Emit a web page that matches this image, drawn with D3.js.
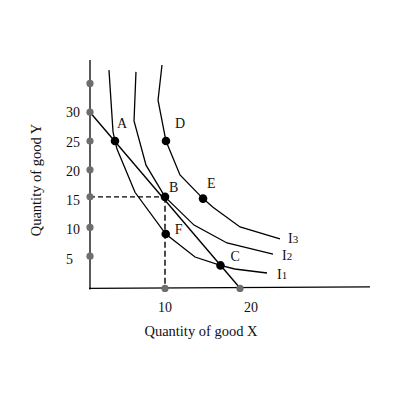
<!DOCTYPE html>
<html>
<head>
<meta charset="utf-8">
<script src="https://cdn.jsdelivr.net/npm/d3@7"></script>
<style>
html,body{margin:0;padding:0;background:#fff;}
svg{display:block;}
text{font-family:"Liberation Serif","Times New Roman",serif;fill:#111;}
</style>
</head>
<body>
<div id="chart"></div>
<script>
// ---- data ----
const yTickValues = [5, 10, 15, 20, 25, 30];
const yTickLabels = ["5", "10", "15", "20", "25", "30"];
const xTickValues = [10, 20];
const xTickLabels = ["10", "20"];
const yAxisDots = [5, 10, 15.3, 20, 25, 30, 35];
const xAxisDots = [10, 20];

const curveNames = ["I1", "I2", "I3"];
const curveI1 = [[2.53,37.3],[3.07,26.6],[3.33,25],[3.6,23.6],[6,16.1],[10.1,8.85],[14,4.86],[17.4,3.4],[19.3,2.78],[23.6,2.08]];
const curveI2 = [[6.13,37.0],[5.87,28.5],[7.47,20.8],[10,15.3],[13.87,10.4],[18.27,7.3],[24.4,5.38]];
const curveI3 = [[9.6,38.2],[9.07,32.1],[10.13,25],[12,19.1],[15.07,15.0],[16.4,13.5],[20,10.07],[25.33,8.0]];
const budgetLine = [[0,30],[19.9,-0.4]];

const pointNames = ["A", "B", "C", "D", "E", "F"];
const pointX = [3.33, 10, 17.4, 10.13, 15.07, 10.1];
const pointY = [25, 15.3, 3.4, 25, 15.0, 8.85];

const xTitle = "Quantity of good X";
const yTitle = "Quantity of good Y";

// ---- drawing ----
const W = 400, H = 400;
const svg = d3.select("#chart").append("svg").attr("width", W).attr("height", H);

const x = d3.scaleLinear().domain([0, 20]).range([90, 240]);
const y = d3.scaleLinear().domain([0, 30]).range([285, 112.2]);
const axisY = y(-0.6);

// axes lines
svg.append("line").attr("x1", x(0)).attr("x2", x(0)).attr("y1", 60).attr("y2", axisY + 1)
  .attr("stroke", "#000").attr("stroke-width", 1.3);
svg.append("line").attr("x1", x(0) - 1).attr("x2", 370).attr("y1", axisY).attr("y2", axisY - 1.5)
  .attr("stroke", "#000").attr("stroke-width", 1.3);

// dashed lines to B
const bx = pointX[1], by = pointY[1];
svg.append("line").attr("x1", x(0)).attr("x2", x(bx)).attr("y1", y(by)).attr("y2", y(by))
  .attr("stroke", "#000").attr("stroke-width", 1.1).attr("stroke-dasharray", "5,3");
svg.append("line").attr("x1", x(bx)).attr("x2", x(bx)).attr("y1", y(by)).attr("y2", axisY)
  .attr("stroke", "#000").attr("stroke-width", 1.4).attr("stroke-dasharray", "6,3");

const line = d3.line().x(d => x(d[0])).y(d => y(d[1]));
[curveI1, curveI2, curveI3].forEach(c => {
  svg.append("path").attr("d", line(c)).attr("fill", "none")
    .attr("stroke", "#000").attr("stroke-width", 1.3).attr("stroke-linejoin", "miter");
});
svg.append("path").attr("d", line(budgetLine)).attr("fill", "none")
  .attr("stroke", "#000").attr("stroke-width", 1.4);

// grey dots on axes
svg.selectAll(".ydot").data(yAxisDots).enter().append("circle")
  .attr("cx", x(0)).attr("cy", d => y(d)).attr("r", 3.6).attr("fill", "#6e6e6e");
svg.selectAll(".xdot").data(xAxisDots).enter().append("circle")
  .attr("cx", d => x(d)).attr("cy", axisY).attr("r", 3.6).attr("fill", "#6e6e6e");

// black points
svg.selectAll(".pt").data(pointNames).enter().append("circle")
  .attr("cx", (d, i) => x(pointX[i])).attr("cy", (d, i) => y(pointY[i])).attr("r", 4.3).attr("fill", "#000");

// point labels
const labelOff = {A:[2,-13], B:[4,-5], C:[10,-4], D:[9,-13], E:[4,-11], F:[9,0]};
svg.selectAll(".plab").data(pointNames).enter().append("text")
  .attr("x", (d, i) => x(pointX[i]) + labelOff[d][0])
  .attr("y", (d, i) => y(pointY[i]) + labelOff[d][1])
  .attr("font-size", 14).text(d => d);

// curve labels
const curveEnds = [curveI1, curveI2, curveI3].map(c => c[c.length - 1]);
const curveLabOff = [[10, 6], [9, 6], [8, 4]];
curveNames.forEach((n, i) => {
  const t = svg.append("text")
    .attr("x", x(curveEnds[i][0]) + curveLabOff[i][0])
    .attr("y", y(curveEnds[i][1]) + curveLabOff[i][1])
    .attr("font-size", 14);
  t.append("tspan").text(n[0]);
  t.append("tspan").attr("font-size", 11).text(n.slice(1));
});

// tick labels
svg.selectAll(".ylab").data(yTickValues).enter().append("text")
  .attr("x", 66).attr("y", d => y(d) + 5 + (30 - d) * 0.1)
  .attr("font-size", 14).text((d, i) => yTickLabels[i]);
svg.selectAll(".xlab").data(xTickValues).enter().append("text")
  .attr("x", (d, i) => x(d) + (i === 1 ? 11 : 0)).attr("y", 312)
  .attr("text-anchor", "middle").attr("font-size", 14).text((d, i) => xTickLabels[i]);

// titles
svg.append("text").attr("x", 201).attr("y", 336).attr("text-anchor", "middle")
  .attr("font-size", 14.5).text(xTitle);
svg.append("text").attr("transform", "translate(41,180) rotate(-90)").attr("text-anchor", "middle")
  .attr("font-size", 14.5).text(yTitle);
</script>
</body>
</html>
